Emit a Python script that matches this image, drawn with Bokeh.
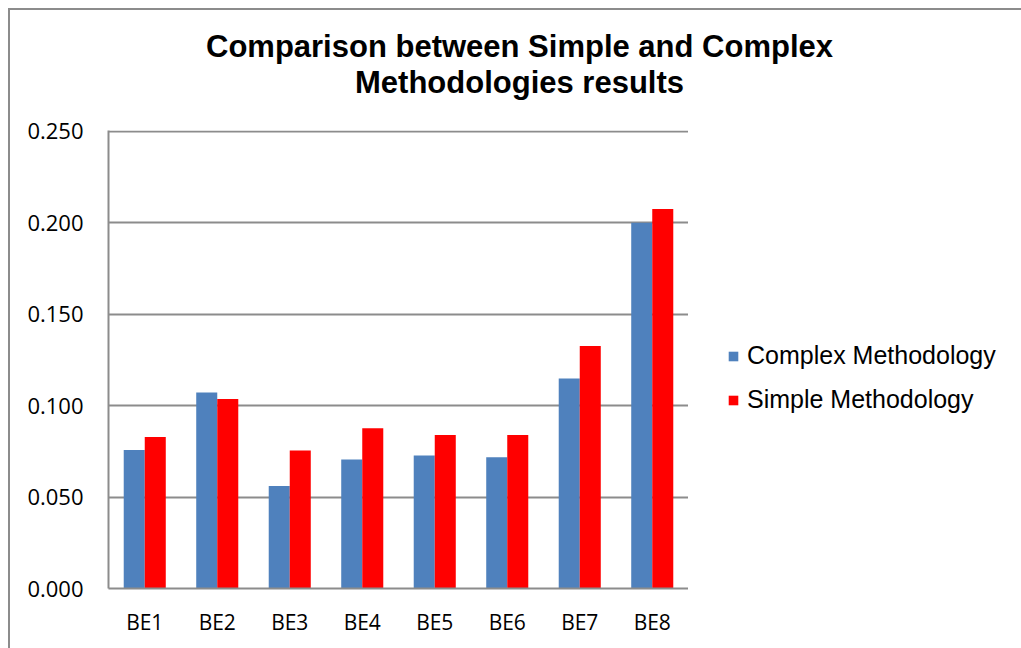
from bokeh.plotting import figure
from bokeh.layouts import column, row
from bokeh.models import (FactorRange, Range1d, FixedTicker, NumeralTickFormatter,
                          Legend, LegendItem, Label, ColumnDataSource)
from bokeh.transform import dodge
from bokeh.embed import file_html
from bokeh.resources import INLINE

categories = ["BE1", "BE2", "BE3", "BE4", "BE5", "BE6", "BE7", "BE8"]
complex_vals = [0.0757, 0.1072, 0.0561, 0.0706, 0.0728, 0.0718, 0.1149, 0.2000]
simple_vals = [0.0828, 0.1036, 0.0755, 0.0877, 0.0839, 0.0840, 0.1327, 0.2075]
y_ticks = [0.0, 0.05, 0.10, 0.15, 0.20, 0.25]
title_lines = ["Comparison between Simple and Complex", "Methodologies results"]
series_names = ["Complex Methodology", "Simple Methodology"]

BLUE = "#4F81BD"
RED = "#FF0000"
GRID = "#8c8c8c"

def blank(width, height, xr, yr):
    f = figure(width=width, height=height, x_range=xr, y_range=yr,
               output_backend="svg", toolbar_location=None,
               x_axis_location=None, y_axis_location=None, min_border=0)
    f.outline_line_color = None
    f.xgrid.visible = False
    f.ygrid.visible = False
    f.background_fill_color = "white"
    f.border_fill_color = "white"
    return f

# ---- title strip ----
title_fig = blank(1011, 100, Range1d(0, 1011), Range1d(100, 0))
for txt, yy in zip(title_lines, [36, 72]):
    title_fig.add_layout(Label(x=509, y=yy, text=txt, text_align="center",
                               text_baseline="alphabetic",
                               text_font="Liberation Sans", text_font_style="bold",
                               text_font_size="31px", text_color="black"))

# ---- main chart ----
src = ColumnDataSource(dict(cat=categories, complex=complex_vals, simple=simple_vals))
p = figure(x_range=FactorRange(*categories, range_padding=0),
           y_range=Range1d(0, 0.2505),
           width=678, height=538,
           output_backend="svg", toolbar_location=None,
           min_border_left=98, min_border_right=0,
           min_border_top=20, min_border_bottom=60)
p.outline_line_color = None
p.background_fill_color = "white"
p.border_fill_color = "white"

r1 = p.vbar(x=dodge("cat", -0.145, range=p.x_range), top="complex", width=0.29,
            source=src, fill_color=BLUE, line_color=None)
r2 = p.vbar(x=dodge("cat", 0.145, range=p.x_range), top="simple", width=0.29,
            source=src, fill_color=RED, line_color=None)

p.xgrid.grid_line_color = None
p.ygrid.grid_line_color = GRID
p.ygrid.grid_line_width = 2

p.yaxis.ticker = FixedTicker(ticks=y_ticks)
p.yaxis.formatter = NumeralTickFormatter(format="0.000")
for ax in (p.xaxis[0], p.yaxis[0]):
    ax.axis_line_color = GRID
    ax.axis_line_width = 2
    ax.major_tick_line_color = None
    ax.minor_tick_line_color = None
    ax.major_tick_out = 0
    ax.major_tick_in = 0
    ax.minor_tick_out = 0
    ax.minor_tick_in = 0
    ax.major_label_text_font = "Open Sans"
    ax.major_label_text_color = "black"
p.yaxis.major_label_text_font_size = "22px"
p.xaxis.major_label_text_font_size = "21px"
p.yaxis.major_label_standoff = 25
p.xaxis.major_label_standoff = 19

# ---- legend strip (legend swatches come from hidden proxy renderers) ----
leg_fig = blank(333, 538, Range1d(0, 1), Range1d(0, 1))
proxy = ColumnDataSource(dict(x=[0.5], top=[0.5]))
g1 = leg_fig.vbar(x="x", top="top", width=0.1, source=proxy, fill_color=BLUE,
                  line_color=None, visible=False)
g2 = leg_fig.vbar(x="x", top="top", width=0.1, source=proxy, fill_color=RED,
                  line_color=None, visible=False)
legend = Legend(items=[LegendItem(label=series_names[0], renderers=[g1]),
                       LegendItem(label=series_names[1], renderers=[g2])],
                location=(39, 174), orientation="vertical",
                padding=0, margin=0, spacing=15,
                glyph_width=12, glyph_height=12, label_height=26,
                label_standoff=8,
                label_text_font="Liberation Sans", label_text_font_size="25px",
                label_text_color="black",
                inactive_fill_alpha=0,
                border_line_color=None, background_fill_alpha=0)
leg_fig.add_layout(legend, "center")

layout = column(title_fig, row(p, leg_fig, spacing=0), spacing=0)
layout.styles = {"border-top": "2px solid #8c8c8c", "border-left": "2px solid #8c8c8c",
                 "margin-left": "8px", "margin-top": "8px"}

open("out.html", "w").write(file_html(layout, INLINE))
